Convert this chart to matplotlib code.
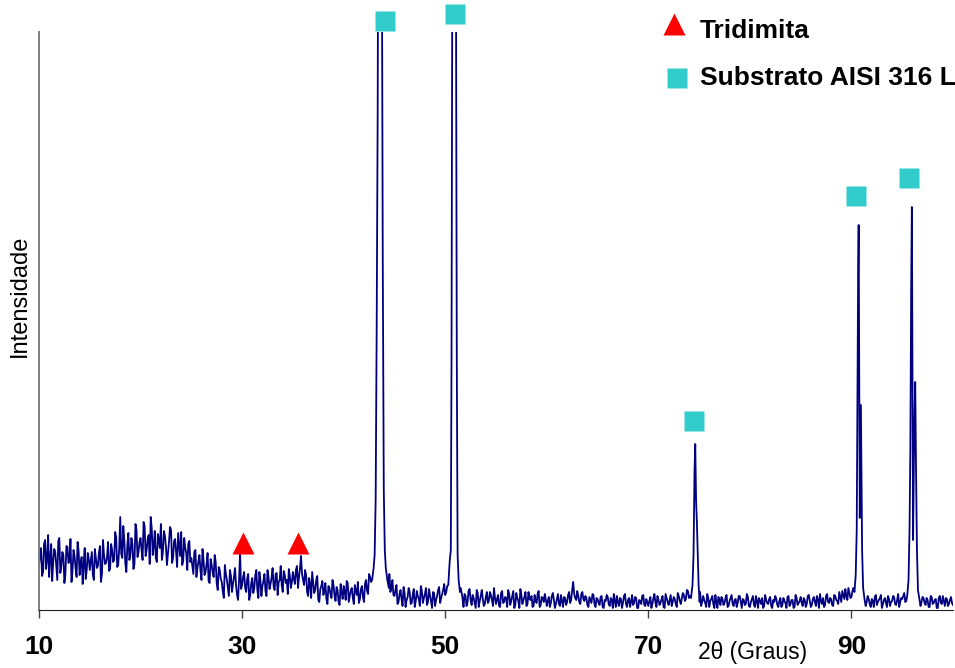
import matplotlib.pyplot as plt
import numpy as np

plt.rcParams['font.family'] = ['Liberation Sans', 'DejaVu Sans']

# background of the scan, readings at 10.0, 10.2, ... 100.0 deg
bg_counts = [
    45, 62, 38, 70, 50, 33, 66, 48, 58, 30, 72, 44, 55, 36, 63, 49, 28, 60, 42, 68, 35, 53, 46, 31, 57,
    40, 58, 30, 52, 44, 64, 36, 55, 47, 68, 41, 60, 50, 73, 45, 93, 52, 70, 38, 77, 55, 66, 46, 80, 58,
    72, 50, 84, 60, 75, 93, 55, 79, 48, 70, 86, 58, 74, 45, 68, 80, 52, 71, 43, 66, 78, 49, 62, 40, 69,
    52, 36, 60, 42, 55, 30, 50, 38, 57, 27, 45, 33, 48, 20, 40, 28, 12, 36, 22, 40, 18, 33, 25, 10, 57,
    25, 38, 18, 36, 15, 32, 22, 40, 12, 30, 24, 36, 14, 33, 26, 42, 20, 37, 28, 44, 18, 35, 30, 41, 22,
    38, 26, 44, 33, 54, 30, 40, 18, 32, 12, 28, 20, 34, 8, 24, 15, 27, 6, 22, 12, 25, 9, 20, 5, 18,
    24, 10, 27, 14, 22, 6, 19, 28, 11, 24, 8, 30, 16, 33, 22, 40, 30, 25, 20, 28, 35, 26, 38, 18, 30,
    14, 25, 8, 20, 4, 17, 10, 22, 6, 15, 3, 19, 11, 24, 7, 16, 5, 21, 9, 18, 4, 14, 23, 12, 20,
    15, 24, 18, 30, 20, 25, 16, 6, 18, 3, 14, 8, 21, 5, 12, 2, 17, 9, 20, 4, 13, 7, 18, 10, 22,
    6, 15, 3, 19, 8, 12, 20, 5, 14, 2, 17, 9, 21, 6, 13, 4, 18, 10, 3, 15, 7, 19, 5, 12, 16,
    4, 13, 7, 17, 2, 11, 6, 15, 3, 12, 8, 18, 10, 28, 12, 19, 8, 16, 11, 14, 5, 13, 7, 15, 3,
    11, 5, 14, 2, 9, 13, 4, 10, 16, 3, 8, 12, 2, 14, 6, 10, 3, 15, 7, 12, 2, 9, 14, 5, 11,
    4, 13, 6, 16, 3, 10, 7, 14, 2, 12, 5, 15, 8, 11, 3, 14, 6, 17, 9, 20, 12, 18, 30, 100, 40,
    12, 4, 14, 7, 16, 3, 11, 6, 15, 2, 10, 13, 5, 12, 3, 9, 15, 4, 11, 7, 14, 2, 10, 6, 13,
    3, 11, 5, 14, 2, 9, 12, 4, 10, 6, 13, 2, 8, 11, 3, 12, 5, 9, 2, 14, 6, 10, 3, 12, 7,
    13, 4, 10, 6, 15, 3, 11, 8, 14, 2, 9, 12, 5, 16, 7, 11, 4, 14, 9, 18, 8, 15, 21, 10, 17,
    13, 22, 30, 200, 150, 30, 12, 4, 14, 6, 11, 3, 15, 8, 12, 2, 10, 7, 14, 4, 9, 13, 5, 16, 8,
    11, 17, 9, 21, 40, 200, 150, 30, 10, 4, 13, 7, 12, 3, 14, 6, 10, 2, 12, 7, 14, 4, 11, 6, 13,
    5,
]

# in-between readings at 10.1, 10.3, ... 99.9 deg
mid_counts = [
    55, 34, 66, 41, 75, 52, 29, 61, 44, 69, 37, 58, 27, 64, 47, 71, 39, 54, 33, 59, 48, 26, 62, 40, 51,
    49, 35, 61, 42, 57, 28, 70, 46, 53, 39, 66, 48, 78, 43, 62, 56, 84, 47, 65, 50, 72, 41, 86, 53, 68,
    60, 88, 54, 71, 46, 82, 65, 52, 76, 62, 50, 79, 63, 56, 83, 47, 69, 58, 77, 54, 45, 72, 57, 66, 48,
    44, 58, 33, 49, 39, 61, 35, 46, 29, 51, 38, 55, 26, 43, 31, 18, 45, 30, 14, 34, 26, 42, 15, 30, 21,
    33, 22, 31, 10, 27, 17, 35, 20, 38, 14, 29, 19, 40, 21, 32, 24, 36, 15, 30, 25, 39, 27, 16, 34, 28,
    31, 40, 22, 42, 36, 25, 35, 14, 26, 38, 17, 30, 10, 21, 29, 19, 11, 24, 16, 30, 14, 23, 8, 26, 11,
    18, 29, 8, 20, 12, 25, 15, 7, 21, 13, 26, 19, 36, 28, 35, 30, 25, 28, 32, 40, 33, 24, 36, 22, 15,
    20, 6, 16, 11, 23, 3, 13, 18, 7, 21, 9, 14, 4, 19, 12, 22, 8, 15, 2, 17, 10, 20, 7, 16, 26,
    18, 22, 27, 24, 19, 20, 10, 22, 12, 16, 4, 19, 10, 15, 7, 20, 3, 14, 11, 6, 18, 9, 15, 4, 12,
    11, 4, 17, 7, 13, 3, 16, 9, 19, 5, 12, 2, 15, 10, 18, 6, 11, 14, 4, 9, 16, 3, 13, 8, 11,
    9, 3, 14, 10, 6, 16, 4, 9, 13, 5, 15, 7, 20, 16, 10, 14, 6, 18, 9, 12, 3, 10, 16, 6, 12,
    7, 13, 3, 10, 15, 6, 12, 2, 9, 14, 4, 11, 7, 16, 3, 12, 8, 5, 13, 2, 10, 6, 15, 4, 8,
    9, 2, 12, 7, 14, 5, 11, 3, 16, 8, 10, 4, 13, 6, 17, 9, 12, 15, 11, 19, 14, 22, 60, 120, 30,
    18, 8, 10, 3, 12, 9, 14, 2, 8, 13, 5, 11, 7, 15, 4, 12, 6, 10, 3, 14, 8, 11, 5, 16, 4,
    8, 14, 3, 9, 12, 6, 2, 15, 7, 11, 4, 10, 14, 5, 9, 3, 12, 7, 13, 4, 10, 2, 15, 5, 9,
    7, 12, 3, 14, 9, 5, 13, 4, 10, 16, 6, 3, 14, 8, 12, 5, 15, 10, 6, 13, 19, 11, 14, 22, 12,
    19, 26, 100, 300, 120, 80, 20, 8, 11, 3, 9, 13, 5, 10, 15, 6, 12, 3, 11, 8, 14, 6, 10, 3, 12,
    14, 8, 19, 12, 300, 100, 180, 60, 20, 8, 12, 5, 10, 3, 13, 7, 11, 2, 14, 6, 9, 12, 4, 10, 7,
]

# peak profiles read finer (2theta, intensity)
peak1_x = [42.8, 42.95, 43.05, 43.15, 43.25, 43.35, 43.45, 43.55, 43.65, 43.75, 43.85, 43.95, 44.05, 44.15, 44.3, 44.45]
peak1_y = [30, 42, 55, 110, 280, 500, 900, 1400, 1200, 700, 350, 120, 60, 42, 30, 22]
peak2_x = [50.3, 50.45, 50.55, 50.62, 50.7, 50.78, 50.88, 50.98, 51.06, 51.14, 51.22, 51.32, 51.45]
peak2_y = [25, 50, 60, 250, 650, 1200, 1500, 1100, 620, 250, 55, 30, 18]
peak3_x = [74.2, 74.35, 74.45, 74.55, 74.62, 74.7, 74.78, 74.86, 74.95, 75.05]
peak3_y = [12, 25, 55, 140, 166, 110, 88, 60, 25, 8]
peak4_x = [90.3, 90.42, 90.52, 90.6, 90.66, 90.71, 90.76, 90.82, 90.88, 90.93, 90.98, 91.05, 91.15, 91.3]
peak4_y = [18, 35, 80, 220, 340, 385, 250, 92, 150, 205, 140, 60, 22, 10]
peak5_x = [95.5, 95.62, 95.72, 95.8, 95.88, 95.95, 96.0, 96.07, 96.15, 96.22, 96.28, 96.35, 96.45, 96.55, 96.7]
peak5_y = [15, 30, 80, 160, 320, 403, 260, 70, 150, 200, 228, 150, 60, 20, 10]

# phase markers
tri_x = [30.12, 35.48]
tri_y = [67.5, 67.5]
sq_x = [44.03, 50.92, 74.51, 90.47, 95.64]
sq_y = [589.5, 596.5, 189, 414.5, 432.5]

xticks = [10, 30, 50, 70, 90]

# merge the two background passes and put the peaks in place
bg_x = np.round(np.concatenate([10.0 + 0.2 * np.arange(len(bg_counts)),
                                10.1 + 0.2 * np.arange(len(mid_counts))]), 2)
bg_y = np.array(bg_counts + mid_counts, dtype=float)
peaks = [(peak1_x, peak1_y), (peak2_x, peak2_y), (peak3_x, peak3_y),
         (peak4_x, peak4_y), (peak5_x, peak5_y)]
keep = np.ones(len(bg_x), dtype=bool)
for px, py in peaks:
    keep &= ~((bg_x >= min(px) - 1e-6) & (bg_x <= max(px) + 1e-6))
x = np.concatenate([bg_x[keep]] + [np.array(p[0]) for p in peaks])
y = np.concatenate([bg_y[keep]] + [np.array(p[1]) for p in peaks])
order = np.argsort(x)
x, y = x[order], y[order]

fig = plt.figure(figsize=(9.55, 6.68), dpi=100)
ax = fig.add_axes([39 / 955, 58 / 668, 914 / 955, 578 / 668])

ax.plot(x, y, color='#000080', lw=1.3)
ax.plot(tri_x, tri_y, '^', color='#FF0000', ms=16, mec='none', clip_on=False)
ax.plot(sq_x, sq_y, 's', color='#33CCCC', ms=13.7, mec='none', clip_on=False)

ax.set_xlim(10, 100)
ax.set_ylim(0, 578)
ax.set_xticks(xticks)
ax.set_xticklabels([str(t) for t in xticks], fontsize=19, fontweight='bold')
ax.tick_params(axis='x', direction='out', length=6, width=1, color='#404040', pad=12)
ax.set_yticks([])
ax.spines['top'].set_visible(False)
ax.spines['right'].set_visible(False)
ax.spines['left'].set_color('#808080')
ax.spines['left'].set_linewidth(1.4)
ax.spines['bottom'].set_color('#202020')

# legend drawn by hand like the original
ax.plot([72.49], [586.5], '^', color='#FF0000', ms=16, mec='none', clip_on=False)
ax.plot([72.79], [532.5], 's', color='#33CCCC', ms=13.7, mec='none', clip_on=False)
ax.text(75.1, 572, 'Tridimita', fontsize=19, fontweight='bold', va='baseline', ha='left', clip_on=False)
ax.text(75.1, 525, 'Substrato AISI 316 L', fontsize=19, fontweight='bold', va='baseline', ha='left', clip_on=False)

fig.text(698 / 955, 1 - 652 / 668, '2θ (Graus)', fontsize=16.5, va='center', ha='left')
fig.text(20 / 955, 1 - 296 / 668, 'Intensidade', fontsize=17, rotation=90, va='center', ha='center')

fig.savefig('out.png', dpi=100)
